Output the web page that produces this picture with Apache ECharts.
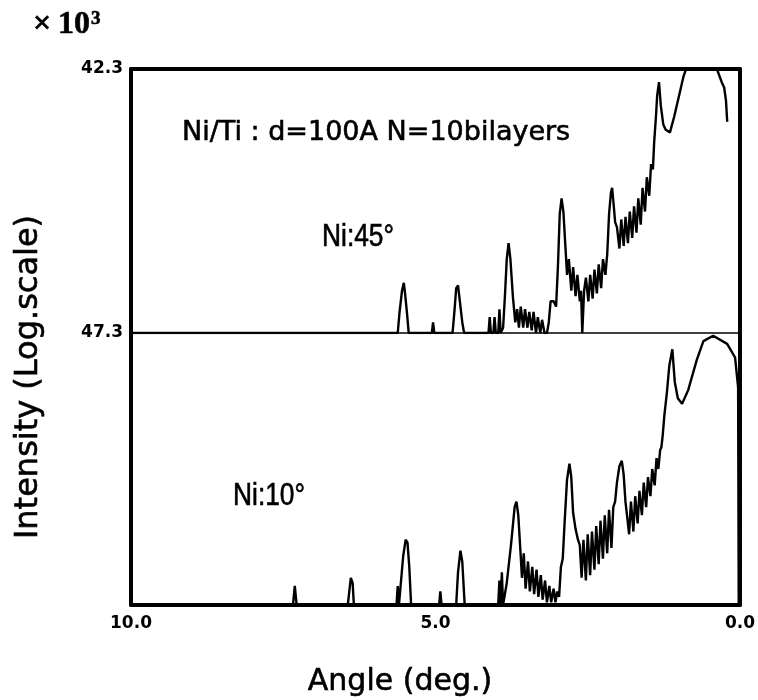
<!DOCTYPE html>
<html>
<head>
<meta charset="utf-8">
<script src="https://cdn.jsdelivr.net/npm/echarts@6/dist/echarts.min.js"></script>
<style>
  html, body { margin: 0; padding: 0; background: #fff; }
  #chartDom { width: 758px; height: 700px; }
</style>
</head>
<body>
<div id="chartDom"></div>
<script>
// angle (deg.) / intensity (% of panel height)
const ni45 = [
  [10.0, 0], [5.62, 0], [5.59, 8], [5.55, 16], [5.52, 19], [5.50, 15], [5.47, 8], [5.44, 0],
  [5.06, 0], [5.04, 4], [5.02, 0],
  [4.72, 0], [4.69, 8], [4.66, 17], [4.63, 18], [4.60, 12], [4.56, 4], [4.53, 0],
  [4.13, 0], [4.11, 6], [4.09, 0], [4.05, 0], [4.03, 6], [4.01, 0], [3.97, 0], [3.95, 9], [3.93, 0],
  [3.89, 2], [3.86, 14], [3.83, 28], [3.80, 34], [3.77, 28], [3.73, 14], [3.69, 4],
  [3.66, 9], [3.63, 2], [3.60, 10], [3.56, 2], [3.53, 9], [3.49, 2], [3.46, 8], [3.42, 1],
  [3.39, 8], [3.35, 0], [3.32, 6], [3.28, 0], [3.25, 5], [3.21, 0],
  [3.17, 0], [3.14, 4], [3.11, 12], [3.06, 12], [3.02, 10], [2.99, 25], [2.96, 45], [2.93, 51],
  [2.90, 46], [2.87, 34], [2.84, 22], [2.81, 28], [2.77, 16], [2.74, 25], [2.70, 14], [2.67, 22],
  [2.63, 12], [2.61, 16], [2.59, 0], [2.56, 16], [2.53, 21], [2.49, 12], [2.46, 22], [2.42, 13],
  [2.39, 24], [2.35, 15], [2.32, 26], [2.28, 17], [2.25, 28], [2.21, 22], [2.18, 30],
  [2.15, 45], [2.12, 53], [2.10, 55], [2.08, 50], [2.05, 42],
  [2.02, 40], [1.98, 32], [1.95, 43], [1.91, 33], [1.88, 44], [1.84, 34], [1.81, 46], [1.77, 36],
  [1.74, 48], [1.70, 38], [1.67, 51], [1.63, 41], [1.60, 55], [1.56, 46], [1.53, 59], [1.49, 52],
  [1.46, 64], [1.43, 62], [1.41, 72], [1.38, 82], [1.36, 90],
  [1.33, 95], [1.30, 86], [1.26, 79], [1.22, 77], [1.15, 76], [1.08, 82], [1.00, 90], [0.93, 97],
  [0.87, 101], [0.75, 108], [0.60, 108], [0.45, 104], [0.38, 100], [0.30, 95], [0.26, 93],
  [0.23, 88], [0.21, 80]
];

const ni10 = [
  [10.0, 0], [7.34, 0], [7.31, 7], [7.28, 0],
  [6.44, 0], [6.41, 6], [6.39, 10], [6.36, 8], [6.34, 0],
  [5.64, 0], [5.62, 7], [5.60, 0], [5.57, 0], [5.53, 18], [5.49, 24], [5.46, 23], [5.43, 14], [5.40, 0],
  [4.94, 0], [4.92, 5], [4.90, 0],
  [4.66, 0], [4.63, 12], [4.59, 20], [4.56, 16], [4.52, 0],
  [3.97, 0], [3.95, 9], [3.93, 0], [3.91, 12], [3.89, 0], [3.86, 0], [3.83, 8], [3.76, 22],
  [3.70, 36], [3.67, 38], [3.64, 33], [3.60, 18], [3.58, 10],
  [3.55, 19], [3.52, 6], [3.48, 16], [3.45, 5], [3.41, 14], [3.38, 4], [3.34, 13], [3.31, 3],
  [3.27, 11], [3.24, 2], [3.20, 9], [3.17, 1], [3.13, 7], [3.10, 1], [3.06, 6], [3.03, 1],
  [3.00, 5], [2.97, 3], [2.94, 14], [2.91, 17],
  [2.88, 30], [2.84, 46], [2.80, 52], [2.77, 47], [2.74, 34], [2.70, 28], [2.66, 24], [2.63, 22],
  [2.60, 10], [2.57, 24], [2.53, 9], [2.50, 26], [2.46, 11], [2.43, 27], [2.39, 13], [2.36, 29],
  [2.32, 15], [2.29, 31], [2.25, 17], [2.22, 33], [2.18, 19], [2.15, 35], [2.11, 21], [2.08, 36],
  [2.05, 38], [2.02, 45], [1.98, 51], [1.94, 53], [1.91, 48], [1.88, 38], [1.85, 32],
  [1.82, 26], [1.79, 38], [1.75, 27], [1.72, 40], [1.68, 30], [1.65, 42], [1.61, 33], [1.58, 45],
  [1.54, 36], [1.51, 47], [1.47, 40], [1.44, 50], [1.40, 44], [1.37, 54], [1.34, 50], [1.31, 57],
  [1.29, 58], [1.27, 62], [1.24, 70], [1.20, 78],
  [1.16, 88], [1.11, 94], [1.07, 82], [1.02, 76], [0.95, 74], [0.85, 79], [0.71, 90], [0.60, 97],
  [0.44, 99], [0.21, 96], [0.08, 91], [0.03, 80], [0.02, 0]
];

const xTicks = [0, 5, 10];
const yTickValues = [0, 100];
const yTickLabels = ['47.3', '42.3'];

const chart = echarts.init(document.getElementById('chartDom'));

const frame = { show: true, onZero: false, lineStyle: { color: '#000', width: 4 } };
const thin = { show: true, onZero: false, lineStyle: { color: '#000', width: 1.5 } };
const numFont = { fontFamily: 'DejaVu Sans', fontWeight: 'bold', fontSize: 17, color: '#000' };
// scanned text looks a bit heavier than a plain regular face
const ink = { fill: '#000', stroke: '#000', lineWidth: 0.6 };

chart.setOption({
  backgroundColor: '#fff',
  animation: false,
  grid: [
    { left: 131, right: 18, top: 69, height: 264 },
    { left: 131, right: 18, top: 333, height: 272 }
  ],
  xAxis: [
    { gridIndex: 0, type: 'value', min: 0, max: 10, inverse: true, position: 'top',
      axisLine: frame, axisTick: { show: false }, axisLabel: { show: false }, splitLine: { show: false } },
    { gridIndex: 1, type: 'value', min: 0, max: 10, interval: 5, inverse: true, position: 'bottom',
      axisLine: frame, axisTick: { show: false }, splitLine: { show: false },
      axisLabel: Object.assign({ margin: 10, formatter: v => xTicks.includes(v) ? v.toFixed(1) : '' }, numFont) },
    { gridIndex: 1, type: 'value', min: 0, max: 10, inverse: true, position: 'top',
      axisLine: thin, axisTick: { show: false }, axisLabel: { show: false }, splitLine: { show: false } }
  ],
  yAxis: [
    { gridIndex: 0, type: 'value', min: 0, max: 100, interval: 100, position: 'left',
      axisLine: frame, axisTick: { show: false }, splitLine: { show: false },
      axisLabel: Object.assign({ margin: 8, formatter: v => yTickLabels[yTickValues.indexOf(v)] || '' }, numFont) },
    { gridIndex: 0, type: 'value', min: 0, max: 100, position: 'right',
      axisLine: frame, axisTick: { show: false }, axisLabel: { show: false }, splitLine: { show: false } },
    { gridIndex: 1, type: 'value', min: 0, max: 100, position: 'left',
      axisLine: frame, axisTick: { show: false }, axisLabel: { show: false }, splitLine: { show: false } },
    { gridIndex: 1, type: 'value', min: 0, max: 100, position: 'right',
      axisLine: frame, axisTick: { show: false }, axisLabel: { show: false }, splitLine: { show: false } }
  ],
  series: [
    { name: 'Ni:45°', type: 'line', xAxisIndex: 0, yAxisIndex: 0, data: ni45,
      showSymbol: false, clip: true, lineStyle: { color: '#000', width: 2.4 } },
    { name: 'Ni:10°', type: 'line', xAxisIndex: 1, yAxisIndex: 2, data: ni10,
      showSymbol: false, clip: true, lineStyle: { color: '#000', width: 2.4 } }
  ],
  graphic: [
    { type: 'text', x: 33, y: 25, style: Object.assign({ text: '×', font: 'bold 32px "Liberation Serif"', textVerticalAlign: 'middle' }, ink) },
    { type: 'text', x: 58, y: 25, style: Object.assign({ text: '10', font: 'bold 32px "Liberation Serif"', textVerticalAlign: 'middle' }, ink) },
    { type: 'text', x: 91, y: 19, style: Object.assign({ text: '3', font: 'bold 19px "Liberation Serif"', textVerticalAlign: 'middle' }, ink) },
    { type: 'text', x: 29, y: 377, rotation: Math.PI / 2,
      style: Object.assign({ text: 'Intensity (Log.scale)', font: '32px "DejaVu Sans"', textAlign: 'center', textVerticalAlign: 'middle' }, ink) },
    { type: 'text', x: 400, y: 682,
      style: Object.assign({ text: 'Angle (deg.)', font: '30px "DejaVu Sans"', textAlign: 'center', textVerticalAlign: 'middle' }, ink) },
    { type: 'text', x: 182, y: 133,
      style: Object.assign({ text: 'Ni/Ti : d=100A N=10bilayers', font: '27px "DejaVu Sans"', textVerticalAlign: 'middle' }, ink) },
    { type: 'text', x: 322, y: 237, scaleX: 0.85,
      style: Object.assign({ text: 'Ni:45°', font: '31px "Liberation Sans"', textVerticalAlign: 'middle' }, ink) },
    { type: 'text', x: 233, y: 496, scaleX: 0.85,
      style: Object.assign({ text: 'Ni:10°', font: '31px "Liberation Sans"', textVerticalAlign: 'middle' }, ink) }
  ]
});
</script>
</body>
</html>
